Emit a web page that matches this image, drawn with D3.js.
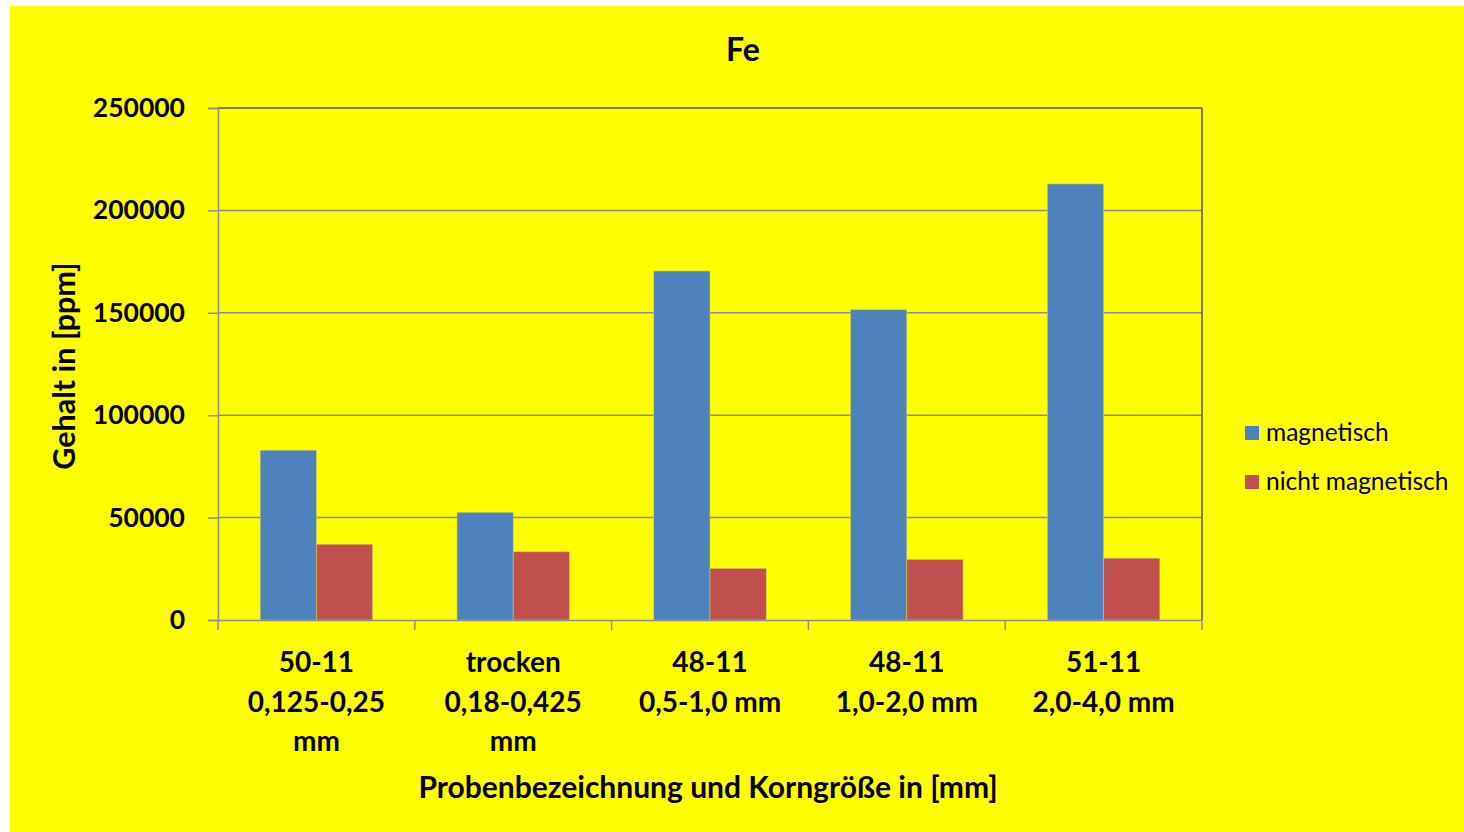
<!DOCTYPE html>
<html>
<head>
<meta charset="utf-8">
<script src="https://cdn.jsdelivr.net/npm/d3@7"></script>
<style>
  body { margin: 0; background: #fff; }
  svg text { font-family: Lato, "Open Sans", sans-serif; fill: #000; }
</style>
</head>
<body>
<svg id="chart" width="1464" height="832"></svg>
<script>
// data
var categories = [
  ["50-11", "0,125-0,25", "mm"],
  ["trocken", "0,18-0,425", "mm"],
  ["48-11", "0,5-1,0 mm"],
  ["48-11", "1,0-2,0 mm"],
  ["51-11", "2,0-4,0 mm"]
];
var seriesNames = ["magnetisch", "nicht magnetisch"];
var magnetisch = [82900, 52600, 170400, 151500, 212900];
var nichtMagnetisch = [37000, 33300, 25200, 29600, 30200];
var yTicks = [0, 50000, 100000, 150000, 200000, 250000];
var colors = ["#4F81BD", "#C0504D"];

var svg = d3.select("#chart");

// yellow chart area
svg.append("rect")
    .attr("x", 10).attr("y", 6)
    .attr("width", 1454).attr("height", 826)
    .attr("fill", "#FFFF00");

var margin = {left: 218, top: 108, right: 1202, bottom: 620};

var x0 = d3.scaleBand()
    .domain(d3.range(categories.length))
    .range([margin.left, margin.right])
    .paddingInner(0).paddingOuter(0);

// excel gap width 150% -> two bars take 2/3.5 of the band
var barW = x0.bandwidth() / 3.5;
var x1 = d3.scaleBand()
    .domain([0, 1])
    .range([(x0.bandwidth() - 2 * barW) / 2, (x0.bandwidth() + 2 * barW) / 2])
    .padding(0);

var y = d3.scaleLinear()
    .domain([0, 250000])
    .range([margin.bottom, margin.top]);

// gridlines
svg.append("g")
    .selectAll("line")
    .data(yTicks.slice(1))
    .enter().append("line")
    .attr("x1", margin.left).attr("x2", margin.right)
    .attr("y1", function(d) { return y(d); })
    .attr("y2", function(d) { return y(d); })
    .attr("stroke", function(d) { return d == 250000 ? "#555" : "#8c8c8c"; })
    .attr("stroke-width", 1.5);

// right border
svg.append("line")
    .attr("x1", margin.right).attr("x2", margin.right)
    .attr("y1", margin.top).attr("y2", margin.bottom)
    .attr("stroke", "#555").attr("stroke-width", 1.5);

// bars
var groups = svg.append("g")
    .selectAll("g")
    .data(categories.map(function(c, i) { return [magnetisch[i], nichtMagnetisch[i]]; }))
    .enter().append("g")
    .attr("transform", function(d, i) { return "translate(" + x0(i) + ",0)"; });

groups.selectAll("rect")
    .data(function(d) { return d; })
    .enter().append("rect")
    .attr("x", function(d, j) { return x1(j); })
    .attr("width", x1.bandwidth())
    .attr("y", function(d) { return y(d); })
    .attr("height", function(d) { return y(0) - y(d); })
    .attr("fill", function(d, j) { return colors[j]; })
    .attr("stroke", "#c8d060")
    .attr("stroke-width", 0.6);

// y axis
var yAxis = svg.append("g")
    .attr("transform", "translate(" + margin.left + ",0)")
    .call(d3.axisLeft(y).tickValues(yTicks).tickFormat(d3.format("d")).tickSize(10).tickPadding(23));
yAxis.select(".domain").attr("stroke", "#8c8c8c").attr("stroke-width", 1.5);
yAxis.selectAll(".tick line").attr("stroke", "#8c8c8c").attr("stroke-width", 1.5);
yAxis.selectAll(".tick text")
    .attr("font-size", 26.5).attr("font-weight", "bold");

// x axis
var xAxis = svg.append("g")
    .attr("transform", "translate(0," + margin.bottom + ")")
    .call(d3.axisBottom(x0).tickValues([]).tickSizeOuter(0));
xAxis.select(".domain").attr("stroke", "#8c8c8c").attr("stroke-width", 1.5);
xAxis.selectAll("line.sep")
    .data(d3.range(categories.length + 1))
    .enter().append("line")
    .attr("class", "sep")
    .attr("x1", function(i) { return margin.left + i * x0.step(); })
    .attr("x2", function(i) { return margin.left + i * x0.step(); })
    .attr("y1", 0).attr("y2", 10)
    .attr("stroke", "#8c8c8c").attr("stroke-width", 1.5);

// category labels
svg.append("g")
    .selectAll("text")
    .data(categories)
    .enter().append("text")
    .attr("x", function(d, i) { return x0(i) + x0.bandwidth() / 2; })
    .attr("y", 672)
    .attr("text-anchor", "middle")
    .attr("font-size", 28).attr("font-weight", "bold")
    .each(function(d) {
      var t = d3.select(this);
      d.forEach(function(line, k) {
        t.append("tspan")
          .attr("x", t.attr("x"))
          .attr("dy", k == 0 ? 0 : 39.5)
          .text(line);
      });
    });

// titles
svg.append("text")
    .attr("x", 743).attr("y", 61)
    .attr("text-anchor", "middle")
    .attr("font-size", 32).attr("font-weight", "bold")
    .text("Fe");

svg.append("text")
    .attr("transform", "translate(75,366) rotate(-90)")
    .attr("text-anchor", "middle")
    .attr("font-size", 30.5).attr("font-weight", "bold")
    .text("Gehalt in [ppm]");

svg.append("text")
    .attr("x", 708).attr("y", 798)
    .attr("text-anchor", "middle")
    .attr("font-size", 30).attr("font-weight", "bold")
    .text("Probenbezeichnung und Korngröße in [mm]");

// legend
var legend = svg.append("g")
    .selectAll("g")
    .data(seriesNames)
    .enter().append("g")
    .attr("transform", function(d, i) { return "translate(1245," + (426 + i * 49) + ")"; });
legend.append("rect")
    .attr("width", 14).attr("height", 14)
    .attr("fill", function(d, i) { return colors[i]; });
legend.append("text")
    .attr("x", 21).attr("y", 15)
    .attr("font-size", 24.5)
    .text(function(d) { return d; });
</script>
</body>
</html>
